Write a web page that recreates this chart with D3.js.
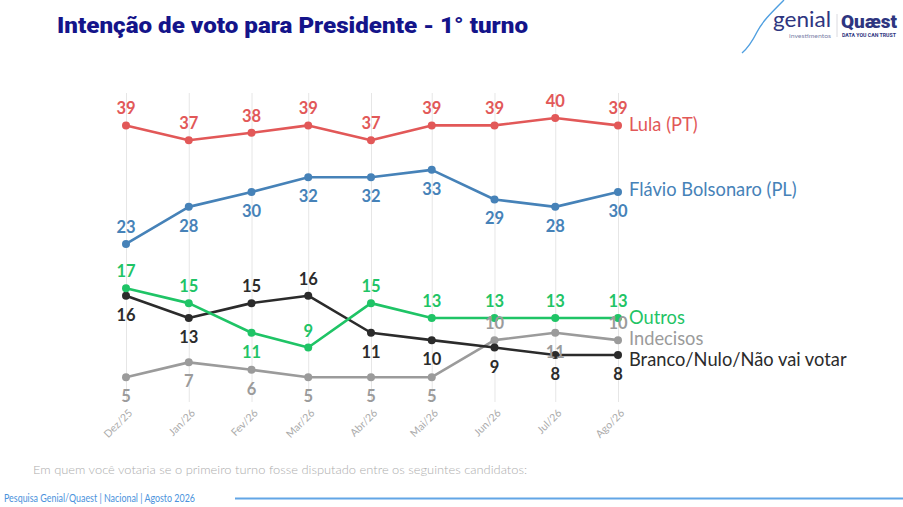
<!DOCTYPE html>
<html>
<head>
<meta charset="utf-8">
<script src="https://cdn.jsdelivr.net/npm/d3@7"></script>
<style>
  html, body { margin: 0; padding: 0; background: #fff; }
  svg { display: block; }
</style>
</head>
<body>
<svg id="chart" width="903" height="507"></svg>
<script>
// ---------- DATA ----------
const months = ["Dez/25","Jan/26","Fev/26","Mar/26","Abr/26","Mai/26","Jun/26","Jul/26","Ago/26"];
const dates  = ["2025-12-01","2026-01-01","2026-02-01","2026-03-01","2026-04-01","2026-05-01","2026-06-01","2026-07-01","2026-08-01"];

const lula      = [39,37,38,39,37,39,39,40,39];
const flavio    = [23,28,30,32,32,33,29,28,30];
const outros    = [17,15,11, 9,15,13,13,13,13];
const indecisos = [ 5, 7, 6, 5, 5, 5,10,11,10];
const branco    = [16,13,15,16,11,10, 9, 8, 8];

// label placement: a = above point, b = below point
const lulaPos      = ["a","a","a","a","a","a","a","a","a"];
const flavioPos    = ["a","b","b","b","b","b","b","b","b"];
const outrosPos    = ["a","a","b","a","a","a","a","a","a"];
const indecisosPos = ["b","b","b","b","b","b","a","b","a"];
const brancoPos    = ["b","b","a","a","b","b","b","b","b"];

const seriesNames = ["Indecisos","Branco/Nulo/Não vai votar","Outros","Flávio Bolsonaro (PL)","Lula (PT)"];

const title    = "Intenção de voto para Presidente - 1° turno";
const subtitle = "Em quem você votaria se o primeiro turno fosse disputado entre os seguintes candidatos:";
const footer   = "Pesquisa Genial/Quaest | Nacional | Agosto 2026";

// ---------- SETUP ----------
const svg = d3.select("#chart");
const parse = d3.utcParse("%Y-%m-%d");
const dateObjs = dates.map(parse);

const x = d3.scaleUtc().domain([dateObjs[0], dateObjs[dateObjs.length-1]]).range([126, 618]);
const y = d3.scaleLinear().domain([0, 40]).range([414.2, 118]);

const series = [
  {name: seriesNames[0], values: indecisos, pos: indecisosPos, color: "#9b9b9b", lab: "#9b9b9b", endDy: -2},
  {name: seriesNames[1], values: branco,    pos: brancoPos,    color: "#2b2b2b", lab: "#2b2b2b", endDy: 5},
  {name: seriesNames[2], values: outros,    pos: outrosPos,    color: "#1fc466", lab: "#1fc466", endDy: 0},
  {name: seriesNames[3], values: flavio,    pos: flavioPos,    color: "#4682b8", lab: "#4682b8", endDy: -2},
  {name: seriesNames[4], values: lula,      pos: lulaPos,      color: "#e25858", lab: "#e25858", endDy: -1}
];

// ---------- GRID + X AXIS ----------
const axisY = 402;
const xAxis = d3.axisBottom(x)
  .tickValues(dateObjs)
  .tickFormat((d, i) => months[i])
  .tickSize(-(axisY - 93))
  .tickSizeOuter(0);

const gx = svg.append("g").attr("transform", `translate(0,${axisY})`).call(xAxis);
gx.select(".domain").remove();
gx.selectAll(".tick line").attr("stroke", "#e6e6e6").attr("stroke-width", 1);
gx.selectAll(".tick text")
  .attr("x", 0).attr("y", 0).attr("dy", "0.35em")
  .attr("text-anchor", "end")
  .attr("transform", "translate(4,9) rotate(-45)")
  .attr("fill", "#ababab")
  .style("font-family", "Lato, sans-serif")
  .style("font-size", "10.5px");

// ---------- LINES ----------
const line = d3.line().x((d, i) => x(dateObjs[i])).y(d => y(d));

const gs = svg.append("g");
series.forEach(s => {
  gs.append("path")
    .attr("d", line(s.values))
    .attr("fill", "none")
    .attr("stroke", s.color)
    .attr("stroke-width", 2.6)
    .attr("stroke-linejoin", "round");
  gs.selectAll(null).data(s.values).enter().append("circle")
    .attr("cx", (d, i) => x(dateObjs[i]))
    .attr("cy", d => y(d))
    .attr("r", 4)
    .attr("fill", s.color);
});

// ---------- VALUE LABELS ----------
const gl = svg.append("g").style("font-family", "Lato, sans-serif").style("font-weight", 700).style("font-size", "16.5px");
series.forEach(s => {
  gl.selectAll(null).data(s.values).enter().append("text")
    .attr("x", (d, i) => x(dateObjs[i]))
    .attr("y", (d, i) => y(d) + (s.pos[i] === "a" ? -11 : 25))
    .attr("text-anchor", "middle")
    .attr("fill", s.lab)
    .text(d => d);
});

// ---------- END LABELS ----------
const ge = svg.append("g").style("font-family", "Lato, sans-serif").style("font-size", "18.3px");
series.forEach(s => {
  const last = s.values[s.values.length - 1];
  ge.append("text")
    .attr("x", 629)
    .attr("y", y(last) + s.endDy)
    .attr("dy", "0.35em")
    .attr("fill", s.color)
    .text(s.name);
});

// ---------- TITLE / TEXTS ----------
svg.append("text").attr("x", 57).attr("y", 32.5)
  .style("font-family", "Roboto, sans-serif").style("font-weight", 900).style("font-size", "22px")
  .attr("fill", "#14148a")
  .attr("textLength", 471).attr("lengthAdjust", "spacingAndGlyphs")
  .text(title);

svg.append("text").attr("x", 33).attr("y", 474)
  .style("font-family", "Lato, sans-serif").style("font-size", "12.5px").style("font-weight", 300)
  .attr("fill", "#adadad")
  .attr("textLength", 494).attr("lengthAdjust", "spacingAndGlyphs")
  .text(subtitle);

svg.append("text").attr("x", 4).attr("y", 502)
  .style("font-family", "Lato, sans-serif").style("font-size", "10.5px")
  .attr("fill", "#4a92dc")
  .attr("textLength", 191).attr("lengthAdjust", "spacingAndGlyphs")
  .text(footer);

svg.append("line").attr("x1", 235).attr("x2", 903).attr("y1", 498.5).attr("y2", 498.5)
  .attr("stroke", "#62a6e6").attr("stroke-width", 2);

// ---------- LOGO ----------
const logo = svg.append("g");
logo.append("path")
  .attr("d", "M784,0 C770,14 762,22 757,32 C753,40 749,47 742,53")
  .attr("fill", "none").attr("stroke", "#4f9fe0").attr("stroke-width", 1.4);
logo.append("text").attr("x", 773).attr("y", 27)
  .style("font-family", "Lato, sans-serif").style("font-size", "21px").style("font-weight", 400)
  .attr("fill", "#2e3580").attr("textLength", 58).attr("lengthAdjust", "spacingAndGlyphs").text("genial");
logo.append("text").attr("x", 789).attr("y", 38)
  .style("font-family", "Lato, sans-serif").style("font-size", "5px")
  .attr("fill", "#7a7fa8").attr("textLength", 42).attr("lengthAdjust", "spacingAndGlyphs").text("investimentos");
logo.append("line").attr("x1", 837).attr("x2", 837).attr("y1", 14).attr("y2", 37)
  .attr("stroke", "#d0d0d8").attr("stroke-width", 0.8);
logo.append("text").attr("x", 841).attr("y", 28)
  .style("font-family", "Roboto, sans-serif").style("font-size", "18px").style("font-weight", 900)
  .attr("fill", "#2e3580").attr("textLength", 56).attr("lengthAdjust", "spacingAndGlyphs").text("Quæst");
logo.append("text").attr("x", 842).attr("y", 37)
  .style("font-family", "Roboto, sans-serif").style("font-size", "4.5px").style("font-weight", 700)
  .attr("fill", "#2e3580").attr("textLength", 54).attr("lengthAdjust", "spacingAndGlyphs").text("DATA YOU CAN TRUST");
</script>
</body>
</html>
